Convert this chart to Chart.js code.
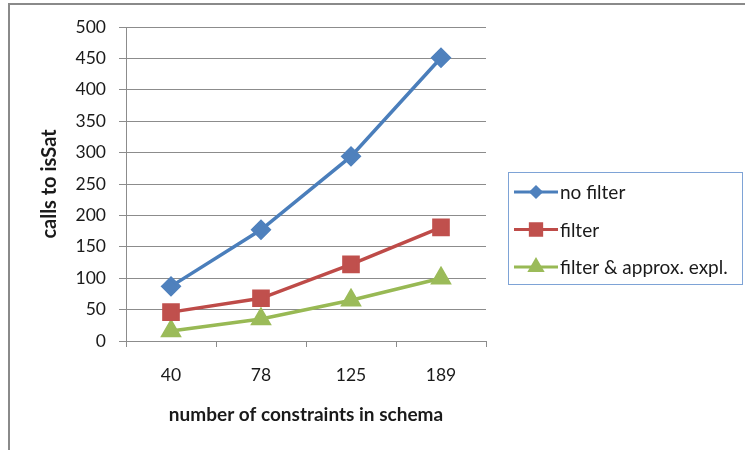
<!DOCTYPE html>
<html>
<head>
<meta charset="utf-8">
<script src="https://cdn.jsdelivr.net/npm/chart.js@4"></script>
<style>
  html, body { margin: 0; padding: 0; background: #fff; }
  #wrap { position: relative; width: 745px; height: 450px; }
  #frame { position: absolute; left: 8px; top: 3px; right: 0; bottom: 0; border-top: 2px solid #8a8a8a; border-left: 2px solid #8a8a8a; }
  canvas { position: absolute; left: 0; top: 0; }
</style>
</head>
<body>
<div id="wrap">
  <div id="frame"></div>
  <canvas id="chart" width="745" height="450"></canvas>
</div>
<script>
// data
const constraints = ['40', '78', '125', '189'];
const noFilter = [87, 177, 294, 451];
const filtered = [46, 68, 122, 181];
const approxExpl = [16, 35, 65, 100];

const FONT = 'Lato, "Open Sans", sans-serif';
const gridGray = '#8c8c8c';
const textColor = '#1a1a1a';

// legend box drawn by hand, Excel style
const boxLegend = {
  id: 'boxLegend',
  afterDraw(chart) {
    const ctx = chart.ctx;
    ctx.save();
    ctx.strokeStyle = '#7ea3d6';
    ctx.lineWidth = 1;
    ctx.strokeRect(508.5, 172.5, 234, 112);
    ctx.font = '19px ' + FONT;
    ctx.textBaseline = 'middle';
    chart.data.datasets.forEach((ds, i) => {
      const y = 192 + i * 37.5;
      ctx.strokeStyle = ds.borderColor;
      ctx.lineWidth = 3;
      ctx.beginPath();
      ctx.moveTo(514, y);
      ctx.lineTo(558, y);
      ctx.stroke();
      ctx.fillStyle = ds.pointBackgroundColor;
      ctx.strokeStyle = ds.pointBackgroundColor;
      Chart.helpers.drawPoint(ctx, { pointStyle: ds.pointStyle, radius: ds.legendRadius, borderWidth: 1 }, 536, y);
      ctx.fillStyle = textColor;
      ctx.fillText(ds.label, 560, y + 1);
    });
    ctx.restore();
  }
};

new Chart(document.getElementById('chart'), {
  type: 'line',
  data: {
    labels: constraints,
    datasets: [{
      label: 'no filter',
      data: noFilter,
      borderColor: '#4a7ebb',
      pointBackgroundColor: '#4f81bd',
      pointBorderColor: '#4f81bd',
      pointStyle: 'rectRot',
      pointRadius: 8,
      legendRadius: 5,
      borderWidth: 3.5
    }, {
      label: 'filter',
      data: filtered,
      borderColor: '#be4b48',
      pointBackgroundColor: '#c0504d',
      pointBorderColor: '#c0504d',
      pointStyle: 'rect',
      pointRadius: 10,
      legendRadius: 8,
      borderWidth: 3.5
    }, {
      label: 'filter & approx. expl.',
      data: approxExpl,
      borderColor: '#98b954',
      pointBackgroundColor: '#9bbb59',
      pointBorderColor: '#9bbb59',
      pointStyle: 'triangle',
      pointRadius: 9,
      legendRadius: 7,
      borderWidth: 3.5
    }]
  },
  options: {
    responsive: false,
    animation: false,
    layout: { padding: { left: 38, top: 27, right: 259, bottom: 23.6 } },
    plugins: {
      legend: { display: false },
      tooltip: { enabled: false }
    },
    scales: {
      x: {
        offset: true,
        grid: { offset: true, drawOnChartArea: false, drawTicks: true, tickLength: 6, color: gridGray },
        border: { color: gridGray, width: 1 },
        ticks: { font: { family: FONT, size: 17.5 }, color: textColor, padding: 17.5 },
        title: {
          display: true,
          text: 'number of constraints in schema',
          font: { family: FONT, size: 19, weight: 'bold' },
          color: textColor,
          padding: { top: 0, bottom: 0 }
        },
        afterFit(scale) { scale.height = 85.4; }
      },
      y: {
        min: 0,
        max: 500,
        ticks: { stepSize: 50, font: { family: FONT, size: 17.5 }, color: textColor, padding: 13 },
        grid: { color: gridGray, tickLength: 7 },
        border: { color: gridGray, width: 1 },
        title: {
          display: true,
          text: 'calls to isSat',
          font: { family: FONT, size: 20, weight: 'bold' },
          color: textColor,
          padding: { top: 0, bottom: 0 }
        },
        afterFit(scale) { scale.width = 88; }
      }
    }
  },
  plugins: [boxLegend]
});
</script>
</body>
</html>
